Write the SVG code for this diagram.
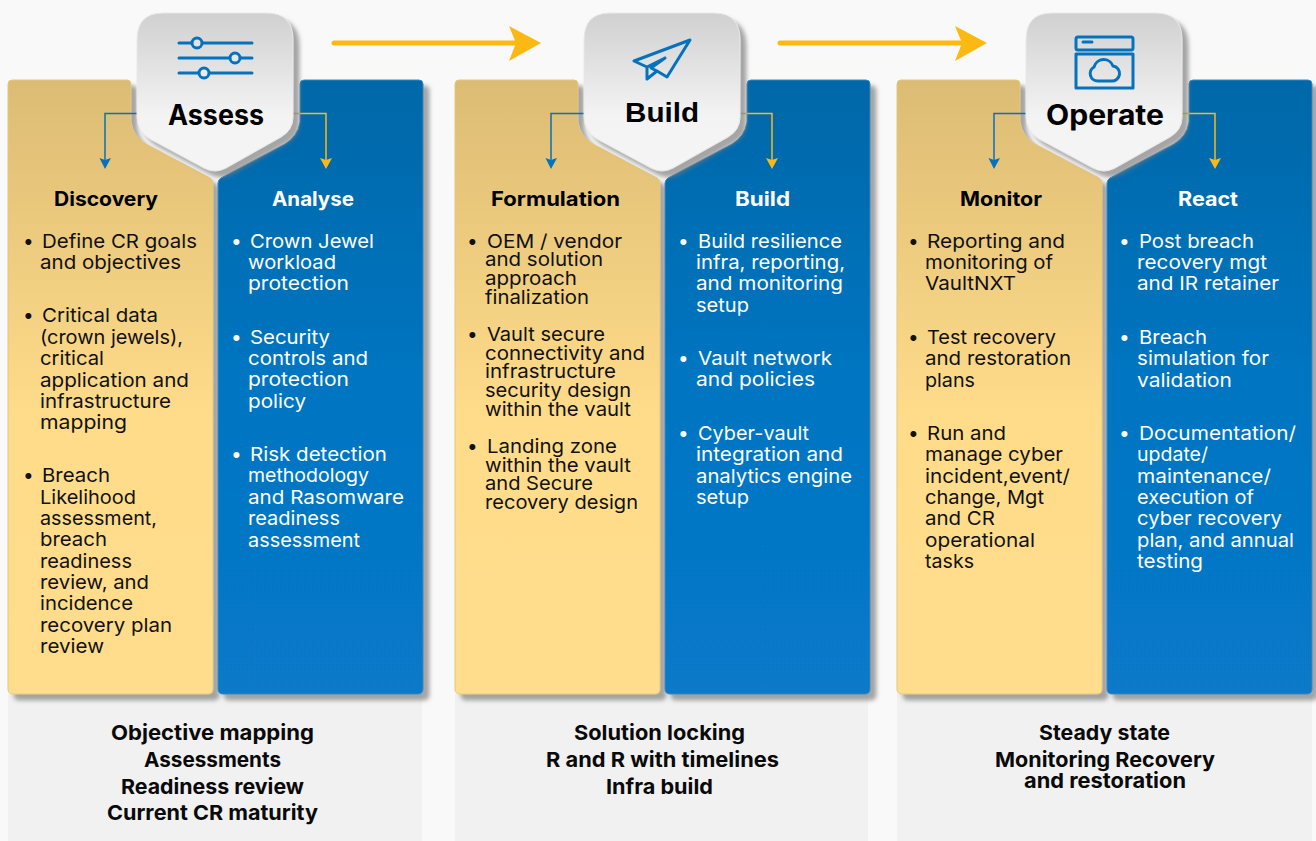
<svg xmlns="http://www.w3.org/2000/svg" width="1316" height="841" viewBox="0 0 1316 841">
<style>
text{font-family:Inter,"Liberation Sans",sans-serif}
.b{font-size:19px;fill:#111}
.w{font-size:19px;fill:#fff}
.h{font-size:20px;font-weight:700}
.f{font-size:20.500px;font-weight:700;fill:#0a0a0a}
.t{font-size:28px;font-weight:700;fill:#000}
.ic{fill:none;stroke:#0472bd;stroke-width:3;stroke-linejoin:round;stroke-linecap:round}
.foot{fill:#f1f1f1}
.gold{fill:url(#g);stroke:#e3c680;stroke-width:1}
.blue{fill:url(#u);stroke:#3a88c0;stroke-width:1}
.ya{fill:none;stroke:#fdb913;stroke-width:5;stroke-linecap:round}
.cb{fill:none;stroke:#0472bd;stroke-width:1.500}
.cy{fill:none;stroke:#fdb913;stroke-width:1.500}
</style>
<defs>
<linearGradient id="g" x1="0" y1="0" x2="0" y2="1"><stop offset="0" stop-color="#dcbc74"/><stop offset=".55" stop-color="#ffdc8a"/><stop offset="1" stop-color="#ffdd8c"/></linearGradient>
<linearGradient id="u" x1="0" y1="0" x2="0" y2="1"><stop offset="0" stop-color="#0568a8"/><stop offset=".5" stop-color="#0575c2"/><stop offset="1" stop-color="#0779c9"/></linearGradient>
<linearGradient id="s" x1="0" y1="0" x2="0" y2="1"><stop offset="0" stop-color="#d0d0d0"/><stop offset=".65" stop-color="#f3f3f3"/><stop offset="1" stop-color="#f5f5f5"/></linearGradient>
<filter id="sh" x="-10%" y="-10%" width="125%" height="125%"><feDropShadow dx="6" dy="6" stdDeviation="2" flood-color="#777" flood-opacity=".65"/></filter>
<path id="pg" class="gold" filter="url(#sh)" d="M12,80H127Q131,80 131,84V122Q133,136 146,144L210,178Q213,180 213,183V689Q213,694 208,694H13Q8,694 8,689V84Q8,80 12,80Z"/>
<path id="pb" class="blue" filter="url(#sh)" d="M304,80H419Q423,80 423,84V689Q423,694 418,694H223Q218,694 218,689V183Q218,180 221,178L285,144Q298,136 300,122V84Q300,80 304,80Z"/>
<path id="bd" fill="url(#s)" stroke="#e8e8e8" stroke-width="1" filter="url(#sh)" d="M163,13H267Q293,13 293,40V117Q293,130 281,137L226,168Q215,174 204,168L150,139Q137,131 137,117V40Q137,13 163,13Z"/>
</defs>
<rect width="1316" height="841" fill="#f9f9f9"/>
<rect class="foot" x="8" y="694" width="414" height="147"/>
<rect class="foot" x="455" y="694" width="413" height="147"/>
<rect class="foot" x="897" y="694" width="415" height="147"/>

<g id="panel-discovery"><use href="#pg"/>
<text class="h" x="54" y="206" textLength="104" lengthAdjust="spacingAndGlyphs" fill="#000">Discovery</text>
<g class="b"><text x="23" y="248">•</text>
<text x="42" y="248" textLength="155" lengthAdjust="spacingAndGlyphs">Define CR goals</text><text x="40" y="269" textLength="141" lengthAdjust="spacingAndGlyphs">and objectives</text>
<text x="23" y="322">•</text><text x="42" y="322" textLength="116" lengthAdjust="spacingAndGlyphs">Critical data</text><text x="40" y="344" textLength="143" lengthAdjust="spacingAndGlyphs">(crown jewels),</text><text x="40" y="365" textLength="64" lengthAdjust="spacingAndGlyphs">critical</text><text x="40" y="387" textLength="149" lengthAdjust="spacingAndGlyphs">application and</text><text x="40" y="408" textLength="131" lengthAdjust="spacingAndGlyphs">infrastructure</text><text x="40" y="429" textLength="87" lengthAdjust="spacingAndGlyphs">mapping</text>
<text x="23" y="482">•</text><text x="42" y="482" textLength="68" lengthAdjust="spacingAndGlyphs">Breach</text><text x="40" y="504" textLength="96" lengthAdjust="spacingAndGlyphs">Likelihood</text><text x="40" y="525" textLength="117" lengthAdjust="spacingAndGlyphs">assessment,</text><text x="40" y="546" textLength="67" lengthAdjust="spacingAndGlyphs">breach</text><text x="40" y="568" textLength="92" lengthAdjust="spacingAndGlyphs">readiness</text><text x="40" y="589" textLength="109" lengthAdjust="spacingAndGlyphs">review, and</text><text x="40" y="610" textLength="93" lengthAdjust="spacingAndGlyphs">incidence</text><text x="40" y="632" textLength="132" lengthAdjust="spacingAndGlyphs">recovery plan</text><text x="40" y="653" textLength="64" lengthAdjust="spacingAndGlyphs">review</text></g></g>

<g id="panel-analyse"><use href="#pb"/>
<text class="h" x="272" y="206" textLength="82" lengthAdjust="spacingAndGlyphs" fill="#fff">Analyse</text>
<g class="w"><text x="231" y="248">•</text><text x="250" y="248" textLength="124" lengthAdjust="spacingAndGlyphs">Crown Jewel</text><text x="248" y="269" textLength="88" lengthAdjust="spacingAndGlyphs">workload</text><text x="248" y="290" textLength="101" lengthAdjust="spacingAndGlyphs">protection</text>
<text x="231" y="344">•</text><text x="250" y="344" textLength="80" lengthAdjust="spacingAndGlyphs">Security</text><text x="248" y="365" textLength="120" lengthAdjust="spacingAndGlyphs">controls and</text><text x="248" y="386" textLength="101" lengthAdjust="spacingAndGlyphs">protection</text><text x="248" y="408" textLength="58" lengthAdjust="spacingAndGlyphs">policy</text>
<text x="231" y="461">•</text><text x="250" y="461" textLength="137" lengthAdjust="spacingAndGlyphs">Risk detection</text><text x="248" y="482" textLength="121" lengthAdjust="spacingAndGlyphs">methodology</text><text x="248" y="504" textLength="156" lengthAdjust="spacingAndGlyphs">and Rasomware</text><text x="248" y="525" textLength="92" lengthAdjust="spacingAndGlyphs">readiness</text><text x="248" y="547" textLength="112" lengthAdjust="spacingAndGlyphs">assessment</text></g></g>

<g id="panel-formulation"><use href="#pg" x="447"/>
<text class="h" x="491" y="206" textLength="129" lengthAdjust="spacingAndGlyphs" fill="#000">Formulation</text>
<g class="b"><text x="467" y="248">•</text><text x="487" y="248" textLength="135" lengthAdjust="spacingAndGlyphs">OEM / vendor</text><text x="485" y="266" textLength="118" lengthAdjust="spacingAndGlyphs">and solution</text><text x="485" y="285" textLength="92" lengthAdjust="spacingAndGlyphs">approach</text><text x="485" y="304" textLength="104" lengthAdjust="spacingAndGlyphs">finalization</text>
<text x="467" y="341">•</text><text x="487" y="341" textLength="118" lengthAdjust="spacingAndGlyphs">Vault secure</text><text x="485" y="360" textLength="160" lengthAdjust="spacingAndGlyphs">connectivity and</text><text x="485" y="378" textLength="131" lengthAdjust="spacingAndGlyphs">infrastructure</text><text x="485" y="397" textLength="146" lengthAdjust="spacingAndGlyphs">security design</text><text x="485" y="416" textLength="146" lengthAdjust="spacingAndGlyphs">within the vault</text>
<text x="467" y="453">•</text><text x="487" y="453" textLength="130" lengthAdjust="spacingAndGlyphs">Landing zone</text><text x="485" y="472" textLength="146" lengthAdjust="spacingAndGlyphs">within the vault</text><text x="485" y="490" textLength="108" lengthAdjust="spacingAndGlyphs">and Secure</text><text x="485" y="509" textLength="153" lengthAdjust="spacingAndGlyphs">recovery design</text></g></g>

<g id="panel-build"><use href="#pb" x="447"/>
<text class="h" x="735" y="206" textLength="55" lengthAdjust="spacingAndGlyphs" fill="#fff">Build</text>
<g class="w"><text x="678" y="248">•</text><text x="698" y="248" textLength="144" lengthAdjust="spacingAndGlyphs">Build resilience</text><text x="696" y="269" textLength="149" lengthAdjust="spacingAndGlyphs">infra, reporting,</text><text x="696" y="290" textLength="147" lengthAdjust="spacingAndGlyphs">and monitoring</text><text x="696" y="312" textLength="53" lengthAdjust="spacingAndGlyphs">setup</text>
<text x="678" y="365">•</text><text x="698" y="365" textLength="134" lengthAdjust="spacingAndGlyphs">Vault network</text><text x="696" y="386" textLength="119" lengthAdjust="spacingAndGlyphs">and policies</text>
<text x="678" y="440">•</text><text x="698" y="440" textLength="111" lengthAdjust="spacingAndGlyphs">Cyber-vault</text><text x="696" y="461" textLength="147" lengthAdjust="spacingAndGlyphs">integration and</text><text x="696" y="483" textLength="156" lengthAdjust="spacingAndGlyphs">analytics engine</text><text x="696" y="504" textLength="53" lengthAdjust="spacingAndGlyphs">setup</text></g></g>

<g id="panel-monitor"><use href="#pg" x="889"/>
<text class="h" x="960" y="206" textLength="82" lengthAdjust="spacingAndGlyphs" fill="#000">Monitor</text>
<g class="b"><text x="908" y="248">•</text><text x="927" y="248" textLength="138" lengthAdjust="spacingAndGlyphs">Reporting and</text><text x="925" y="269" textLength="128" lengthAdjust="spacingAndGlyphs">monitoring of</text><text x="925" y="290" textLength="91" lengthAdjust="spacingAndGlyphs">VaultNXT</text>
<text x="908" y="344">•</text><text x="927" y="344" textLength="129" lengthAdjust="spacingAndGlyphs">Test recovery</text><text x="925" y="365" textLength="146" lengthAdjust="spacingAndGlyphs">and restoration</text><text x="925" y="387" textLength="50" lengthAdjust="spacingAndGlyphs">plans</text>
<text x="908" y="440">•</text><text x="927" y="440" textLength="79" lengthAdjust="spacingAndGlyphs">Run and</text><text x="925" y="461" textLength="138" lengthAdjust="spacingAndGlyphs">manage cyber</text><text x="925" y="483" textLength="145" lengthAdjust="spacingAndGlyphs">incident,event/</text><text x="925" y="504" textLength="119" lengthAdjust="spacingAndGlyphs">change, Mgt</text><text x="925" y="525" textLength="70" lengthAdjust="spacingAndGlyphs">and CR</text><text x="925" y="547" textLength="110" lengthAdjust="spacingAndGlyphs">operational</text><text x="925" y="568" textLength="49" lengthAdjust="spacingAndGlyphs">tasks</text></g></g>

<g id="panel-react"><use href="#pb" x="889"/>
<text class="h" x="1178" y="206" textLength="60" lengthAdjust="spacingAndGlyphs" fill="#fff">React</text>
<g class="w"><text x="1119" y="248">•</text><text x="1139" y="248" textLength="115" lengthAdjust="spacingAndGlyphs">Post breach</text><text x="1137" y="269" textLength="130" lengthAdjust="spacingAndGlyphs">recovery mgt</text><text x="1137" y="290" textLength="142" lengthAdjust="spacingAndGlyphs">and IR retainer</text>
<text x="1119" y="344">•</text><text x="1139" y="344" textLength="68" lengthAdjust="spacingAndGlyphs">Breach</text><text x="1137" y="365" textLength="132" lengthAdjust="spacingAndGlyphs">simulation for</text><text x="1137" y="387" textLength="95" lengthAdjust="spacingAndGlyphs">validation</text>
<text x="1119" y="440">•</text><text x="1139" y="440" textLength="157" lengthAdjust="spacingAndGlyphs">Documentation/</text><text x="1137" y="461" textLength="71" lengthAdjust="spacingAndGlyphs">update/</text><text x="1137" y="483" textLength="134" lengthAdjust="spacingAndGlyphs">maintenance/</text><text x="1137" y="504" textLength="117" lengthAdjust="spacingAndGlyphs">execution of</text><text x="1137" y="525" textLength="145" lengthAdjust="spacingAndGlyphs">cyber recovery</text><text x="1137" y="547" textLength="157" lengthAdjust="spacingAndGlyphs">plan, and annual</text><text x="1137" y="568" textLength="66" lengthAdjust="spacingAndGlyphs">testing</text></g></g>

<g id="footer-assess" class="f"><text x="111" y="740" textLength="203" lengthAdjust="spacingAndGlyphs">Objective mapping</text><text x="144" y="767" textLength="137" lengthAdjust="spacingAndGlyphs">Assessments</text><text x="121" y="794" textLength="183" lengthAdjust="spacingAndGlyphs">Readiness review</text><text x="107" y="820" textLength="211" lengthAdjust="spacingAndGlyphs">Current CR maturity</text></g>
<g id="footer-build" class="f"><text x="574" y="740" textLength="171" lengthAdjust="spacingAndGlyphs">Solution locking</text><text x="546" y="767" textLength="233" lengthAdjust="spacingAndGlyphs">R and R with timelines</text><text x="606" y="794" textLength="107" lengthAdjust="spacingAndGlyphs">Infra build</text></g>
<g id="footer-operate" class="f"><text x="1039" y="740" textLength="131" lengthAdjust="spacingAndGlyphs">Steady state</text><text x="995" y="767" textLength="220" lengthAdjust="spacingAndGlyphs">Monitoring Recovery</text><text x="1024" y="788" textLength="162" lengthAdjust="spacingAndGlyphs">and restoration</text></g>

<g id="connectors">
<path class="ya" d="M334,43H515"/><path d="M509,26L541,43L509,61L516,43Z" fill="#fdb913"/>
<path class="ya" d="M780,43H961"/><path d="M955,26L987,43L955,61L962,43Z" fill="#fdb913"/>
<g id="c1"><path class="cb" d="M137,113.500H105V160"/><path d="M99.500,158L105,160L111,158L105,169Z" fill="#0472bd"/><path class="cy" d="M293,113.500H326V160"/><path d="M320,158L326,160L332,158L326,169Z" fill="#fdb913"/></g>
<g id="c2"><path class="cb" d="M584,113.500H551V160"/><path d="M545.500,158L551,160L557,158L551,169Z" fill="#0472bd"/><path class="cy" d="M740,113.500H772V160"/><path d="M766,158L772,160L778,158L772,169Z" fill="#fdb913"/></g>
<g id="c3"><path class="cb" d="M1027,113.500H994V160"/><path d="M988.500,158L994,160L1000,158L994,169Z" fill="#0472bd"/><path class="cy" d="M1182,113.500H1215V160"/><path d="M1209,158L1215,160L1221,158L1215,169Z" fill="#fdb913"/></g>
</g>

<g id="node-assess"><use href="#bd"/>
<path class="ic" d="M179,43H252M179,58H252M179,73H252"/>
<circle class="ic" cx="197" cy="43" r="5" style="fill:#e4e4e4"/><circle class="ic" cx="235" cy="58" r="5" style="fill:#e8e8e8"/><circle class="ic" cx="204" cy="73" r="5" style="fill:#ebebeb"/>
<text class="t" x="168" y="125" textLength="96" lengthAdjust="spacingAndGlyphs">Assess</text></g>

<g id="node-build"><use href="#bd" x="447"/>
<path class="ic" d="M690,40L634,61L647,67L647,79L657,71L667,77ZM665,58L647,67M665,58L651,68L657,71"/>
<text class="t" x="625" y="122" textLength="74" lengthAdjust="spacingAndGlyphs" style="font-family:'Liberation Sans',sans-serif">Build</text></g>

<g id="node-operate"><use href="#bd" x="889"/>
<rect class="ic" x="1076" y="37" width="57" height="13" rx="2"/><path class="ic" d="M1083,42H1092"/><rect class="ic" x="1076" y="54" width="57" height="34"/>
<path class="ic" d="M1098,81A7.500,7.500 0 0 1 1094,67A10,10 0 0 1 1113,66A7.500,7.500 0 0 1 1111,81Z"/>
<text class="t" x="1046" y="125" textLength="118" lengthAdjust="spacingAndGlyphs">Operate</text></g>
</svg>
